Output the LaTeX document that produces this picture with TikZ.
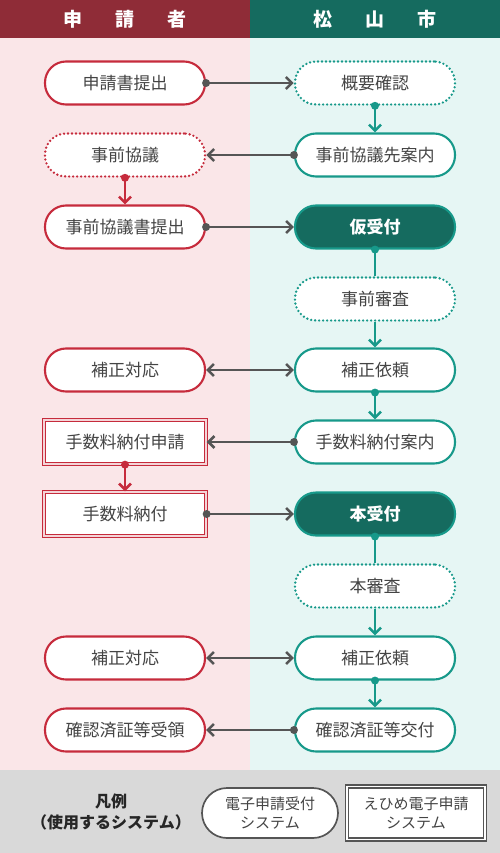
\documentclass[tikz,border=0pt]{standalone}
\usepackage{fontspec}
\setmainfont{Noto Sans CJK JP}
\usetikzlibrary{arrows.meta}

\definecolor{hdrred}{HTML}{8F2C37}
\definecolor{hdrgreen}{HTML}{156B5F}
\definecolor{bgpink}{HTML}{FAE6E8}
\definecolor{bgmint}{HTML}{E6F6F4}
\definecolor{lnred}{HTML}{C62B3C}
\definecolor{lnteal}{HTML}{17998A}
\definecolor{txtgrey}{HTML}{444444}
\definecolor{argrey}{HTML}{555555}
\definecolor{legendgrey}{HTML}{D9D9D9}

\begin{document}
\begin{tikzpicture}[x=1pt,y=-1pt,
    barb/.tip={Straight Barb[length=6pt,width=12pt,line width=2.6pt]},
    box/.style={rectangle, rounded corners=21pt, minimum width=160pt, minimum height=43pt,
                inner sep=0pt, fill=white, line width=2.1pt, text=txtgrey,
                font=\fontsize{17}{19}\selectfont},
    redbox/.style={box, draw=lnred},
    tealbox/.style={box, draw=lnteal},
    reddots/.style={box, draw=lnred, line width=2.6pt, line cap=round, dash pattern=on 0pt off 4pt},
    tealdots/.style={box, draw=lnteal, line width=2.6pt, line cap=round, dash pattern=on 0pt off 4pt},
    fillbox/.style={box, draw=lnteal, fill=hdrgreen, text=white, font=\fontsize{17}{19}\selectfont\bfseries},
    dblbox/.style={box, rounded corners=0pt, minimum width=162pt, minimum height=44pt,
                   draw=lnred, line width=1.3pt, double=lnred!20, double distance=1.6pt},
    garrow/.style={draw=argrey, line width=2.8pt, -barb},
    gboth/.style={draw=argrey, line width=2.8pt, barb-barb},
    tarrow/.style={draw=lnteal, line width=2.8pt, -barb},
    rarrow/.style={draw=lnred, line width=2.8pt, -barb},
    hdr/.style={text=white, font=\fontsize{19}{21}\selectfont\bfseries}]

  % backgrounds
  \fill[hdrred] (0,0) rectangle (250,38);
  \fill[hdrgreen] (250,0) rectangle (500,38);
  \fill[bgpink] (0,38) rectangle (250,770);
  \fill[bgmint] (250,38) rectangle (500,770);
  \fill[legendgrey] (0,770) rectangle (500,853);

  \node[hdr] (hdrleft) at (125,19) {申\hspace{33pt}請\hspace{33pt}者};
  \node[hdr] (hdrright) at (375,19) {松\hspace{33pt}山\hspace{33pt}市};

  % applicant side
  \node[redbox] (teishutsu) at (125,83) {申請書提出};
  \node[reddots] (kyogi) at (125,155) {事前協議};
  \node[redbox] (kyogisho) at (125,227) {事前協議書提出};
  \node[redbox] (hosei1) at (125,370) {補正対応};
  \node[dblbox] (tesushin) at (125,442) {手数料納付申請};
  \node[dblbox] (tesuno) at (125,514) {手数料納付};
  \node[redbox] (hosei2) at (125,658) {補正対応};
  \node[redbox] (juryo) at (125,730) {確認済証等受領};

  % city side
  \node[tealdots] (gaiyo) at (375,83) {概要確認};
  \node[tealbox] (annai) at (375,155) {事前協議先案内};
  \node[fillbox] (kariuke) at (375,227) {仮受付};
  \node[tealdots] (shinsa) at (375,299) {事前審査};
  \node[tealbox] (irai1) at (375,370) {補正依頼};
  \node[tealbox] (tesuan) at (375,442) {手数料納付案内};
  \node[fillbox] (honuke) at (375,514) {本受付};
  \node[tealdots] (honshinsa) at (375,586) {本審査};
  \node[tealbox] (irai2) at (375,658) {補正依頼};
  \node[tealbox] (kofu) at (375,730) {確認済証等交付};

  % horizontal connectors
  \draw[garrow] (teishutsu.east) -- (gaiyo.west);
  \draw[garrow] (annai.west) -- (kyogi.east);
  \draw[garrow] (kyogisho.east) -- (kariuke.west);
  \draw[gboth] (hosei1.east) -- (irai1.west);
  \draw[garrow] (tesuan.west) -- (tesushin.east);
  \draw[garrow] (tesuno.east) -- (honuke.west);
  \draw[gboth] (hosei2.east) -- (irai2.west);
  \draw[garrow] (kofu.west) -- (juryo.east);
  \fill[argrey] (teishutsu.east) circle (4pt) (annai.west) circle (4pt)
                (kyogisho.east) circle (4pt) (tesuan.west) circle (4pt)
                (tesuno.east) circle (4pt) (kofu.west) circle (4pt);

  % vertical connectors
  \draw[tarrow] (gaiyo.south) -- (annai.north);
  \draw[rarrow] (kyogi.south) -- (kyogisho.north);
  \draw[draw=lnteal, line width=2.8pt] (kariuke.south) -- (shinsa.north);
  \draw[tarrow] (shinsa.south) -- (irai1.north);
  \draw[tarrow] (irai1.south) -- (tesuan.north);
  \draw[rarrow] (tesushin.south) -- (tesuno.north);
  \draw[draw=lnteal, line width=2.8pt] (honuke.south) -- (honshinsa.north);
  \draw[tarrow] (honshinsa.south) -- (irai2.north);
  \draw[tarrow] (irai2.south) -- (kofu.north);
  \fill[lnteal] (gaiyo.south) circle (4pt) (kariuke.south) circle (4pt)
                (irai1.south) circle (4pt) (honuke.south) circle (4pt)
                (irai2.south) circle (4pt);
  \fill[lnred] (kyogi.south) circle (4pt) (tesushin.south) circle (4pt);

  % legend
  \node[text=black!85, align=center, font=\fontsize{16}{21}\selectfont\bfseries] (hanrei) at (111,812)
       {凡例\\（使用するシステム）};
  \node[box, draw=argrey, line width=1.7pt, rounded corners=25pt, minimum width=136pt, minimum height=50pt,
        align=center, font=\fontsize{15}{19.5}\selectfont] (legweb) at (270,813)
       {電子申請受付\\システム};
  \node[box, draw=argrey, rounded corners=0pt, minimum width=138pt, minimum height=53pt,
        line width=1.3pt, double=white, double distance=1.6pt,
        align=center, font=\fontsize{15}{19.5}\selectfont] (legehime) at (416,813)
       {えひめ電子申請\\システム};
\end{tikzpicture}
\end{document}
